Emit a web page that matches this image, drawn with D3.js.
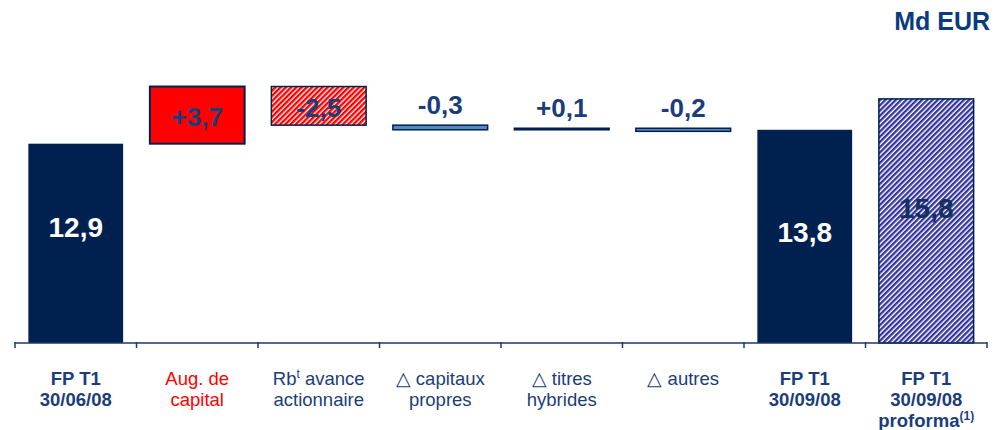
<!DOCTYPE html>
<html>
<head>
<meta charset="utf-8">
<script src="https://cdn.jsdelivr.net/npm/d3@7"></script>
<style>
  html, body { margin: 0; padding: 0; background: #ffffff; }
  svg { display: block; font-family: "Liberation Sans", Arial, sans-serif; }
</style>
</head>
<body>
<svg id="chart" width="996" height="430"></svg>
<script>
// Tier 1 capital bridge, in billions of euros
const categories = ["fp0608", "augCap", "rbAvance", "capPropres", "titresHyb", "autres", "fp0908", "fp0908pf"];
const values = [12.9, 3.7, -2.5, -0.3, 0.1, -0.2, 13.8, 15.8];
const kinds = ["total", "delta", "delta", "delta", "delta", "delta", "total", "total"];
const tickLines = [
  ["FP T1", "30/06/08"],
  ["Aug. de", "capital"],
  ["Rb|t| avance", "actionnaire"],
  ["\u25B3 capitaux", "propres"],
  ["\u25B3 titres", "hybrides"],
  ["\u25B3 autres"],
  ["FP T1", "30/09/08"],
  ["FP T1", "30/09/08", "proforma|(1)|"]
];
const unitLabel = "Md EUR";

const NAVY = "#00204f";
const TEXT = "#1b3d7b";

const svg = d3.select("#chart");

const x = d3.scaleBand()
  .domain(categories)
  .range([15, 987])
  .paddingInner(0.22)
  .paddingOuter(0.11);

const y = d3.scaleLinear()
  .domain([0, 20])
  .range([343, 343 - 20 * 15.45]);

// waterfall geometry: totals start at zero, deltas start at the running total
let running = 0;
const bars = categories.map((c, i) => {
  let start, end;
  if (kinds[i] === "total") { start = 0; end = values[i]; running = values[i]; }
  else { start = running; end = running + values[i]; running = end; }
  return { c, i, v: values[i], kind: kinds[i], lo: Math.min(start, end), hi: Math.max(start, end) };
});

// hatch patterns
const defs = svg.append("defs");
function hatch(id, color, bg, w) {
  const p = defs.append("pattern")
    .attr("id", id)
    .attr("patternUnits", "userSpaceOnUse")
    .attr("width", 3.7).attr("height", 3.7)
    .attr("patternTransform", "rotate(45)");
  p.append("rect").attr("width", 3.7).attr("height", 3.7).attr("fill", bg);
  p.append("rect").attr("width", w).attr("height", 3.7).attr("fill", color);
}
hatch("hatchRed", "#ff0000", "#ffffff", 2.4);
hatch("hatchBlue", "#34349e", "#ffffff", 2.3);

const barStyle = {
  fp0608:     { fill: NAVY, stroke: "none", labelShift: -16 },
  augCap:     { fill: "#ff0000", stroke: NAVY, sw: 2, labelShift: 2 },
  rbAvance:   { fill: "url(#hatchRed)", stroke: NAVY, sw: 1.5, labelShift: 2 },
  capPropres: { fill: "#5688c0", stroke: NAVY, sw: 1.5 },
  titresHyb:  { fill: NAVY, stroke: NAVY, sw: 1.5 },
  autres:     { fill: "#5688c0", stroke: NAVY, sw: 1.5 },
  fp0908:     { fill: NAVY, stroke: "none", labelShift: -4 },
  fp0908pf:   { fill: "url(#hatchBlue)", stroke: NAVY, sw: 1.5, labelShift: -13 }
};

svg.append("g").selectAll("rect")
  .data(bars)
  .join("rect")
  .attr("x", d => x(d.c))
  .attr("width", x.bandwidth())
  .attr("y", d => y(d.hi))
  .attr("height", d => y(d.lo) - y(d.hi))
  .attr("fill", d => barStyle[d.c].fill)
  .attr("stroke", d => barStyle[d.c].stroke)
  .attr("stroke-width", d => barStyle[d.c].sw || 0);

// value labels
const fmt = v => {
  const s = d3.format(".1f")(Math.abs(v)).replace(".", ",");
  return (v < 0 ? "-" : "+") + s;
};
svg.append("g").selectAll("text")
  .data(bars)
  .join("text")
  .attr("x", d => x(d.c) + x.bandwidth() / 2)
  .attr("y", d => {
    const mid = (y(d.lo) + y(d.hi)) / 2;
    if (d.kind === "delta" && Math.abs(d.v) < 1) return y(d.hi) - 21;
    return mid + (barStyle[d.c].labelShift || 0);
  })
  .attr("dy", "0.36em")
  .attr("text-anchor", "middle")
  .attr("font-size", d => d.kind === "total" ? 28 : 26)
  .attr("font-weight", "bold")
  .attr("fill", d => (d.kind === "total" && d.c !== "fp0908pf") ? "#ffffff" : (d.c === "fp0908pf" ? "#13305e" : TEXT))
  .text(d => d.kind === "total" ? fmt(d.v).slice(1) : fmt(d.v));

// category axis with ticks on the band boundaries
const axis = svg.append("g");
const [r0, r1] = x.range();
axis.append("line")
  .attr("x1", r0).attr("x2", r1)
  .attr("y1", y(0)).attr("y2", y(0))
  .attr("stroke", "#1f3864").attr("stroke-width", 1.5);
const step = x.step();
const bounds = categories.map(c => x(c) - step * x.paddingInner() / 2).concat([r1]);
axis.selectAll("line.tick")
  .data(bounds)
  .join("line")
  .attr("class", "tick")
  .attr("x1", d => d).attr("x2", d => d)
  .attr("y1", y(0) - 1).attr("y2", y(0) + 5)
  .attr("stroke", "#1f3864").attr("stroke-width", 1.5);

// tick labels; segments between bars are raised as superscripts
const labels = axis.selectAll("text.cat")
  .data(categories)
  .join("text")
  .attr("class", "cat")
  .attr("text-anchor", "middle")
  .attr("font-size", 18.5)
  .attr("font-weight", (c, i) => kinds[i] === "total" ? "bold" : "normal")
  .attr("fill", c => c === "augCap" ? "#ff0000" : TEXT);

labels.each(function(c, i) {
  const t = d3.select(this);
  const cx = x(c) + x.bandwidth() / 2;
  tickLines[i].forEach((line, li) => {
    const row = t.append("tspan")
      .attr("x", cx)
      .attr("y", 385 + li * 21);
    line.split("|").forEach((part, pi) => {
      if (!part) return;
      const seg = row.append("tspan").text(part);
      if (pi % 2 === 1) {
        seg.attr("font-size", 12).attr("baseline-shift", "super");
      }
    });
  });
});

// unit
svg.append("text")
  .attr("x", 990)
  .attr("y", 30)
  .attr("text-anchor", "end")
  .attr("font-size", 25)
  .attr("font-weight", "bold")
  .attr("fill", "#0a3a80")
  .text(unitLabel);
</script>
</body>
</html>
